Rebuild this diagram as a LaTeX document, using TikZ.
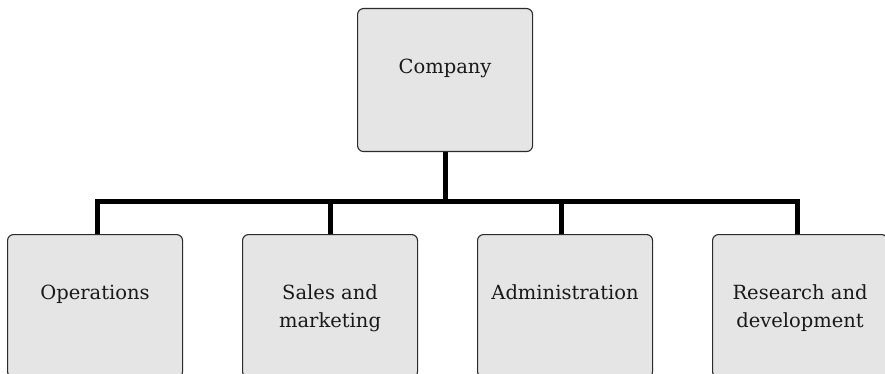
\documentclass[tikz,border=0pt]{standalone}
\usepackage{fontspec}
\setmainfont{DejaVu Serif}
\definecolor{boxgray}{HTML}{E5E5E5}
\definecolor{boxline}{HTML}{2B2B2B}
\begin{document}
\begin{tikzpicture}[x=1pt,y=-1pt,
  box/.style={draw=boxline, line width=1.1pt, fill=boxgray, rounded corners=6pt,
    minimum width=175pt, minimum height=143pt, inner sep=0pt, anchor=north west},
  lbl/.style={font=\fontsize{19.5}{28}\selectfont, align=center, inner sep=0pt,
    anchor=base, text=black!90},
  wire/.style={line width=5pt, line join=miter}]
\useasboundingbox (0,0) rectangle (885,374);
\node[box] (c) at (357,8) {};
\node[box] (o) at (7,234) {};
\node[box] (s) at (242,234) {};
\node[box] (a) at (477,234) {};
\node[box] (r) at (712,234) {};
\node[lbl] (tc) at ([yshift=-66pt]c.north) {Company};
\node[lbl] (to) at ([yshift=-65pt]o.north) {Operations};
\node[lbl] (ts) at ([yshift=-93pt]s.north) {Sales and\\marketing};
\node[lbl] (ta) at ([yshift=-65pt]a.north) {Administration};
\node[lbl] (tr) at ([yshift=-93pt]r.north) {Research and\\development};
\coordinate (bus) at (444.5,201);
\draw[wire] (c.south) -- (c.south |- bus);
\draw[wire] ([xshift=2.5pt]o.north) -- ([xshift=2.5pt]o.north |- bus)
  -- ([xshift=-2.5pt]r.north |- bus) -- ([xshift=-2.5pt]r.north);
\draw[wire] (s.north) -- (s.north |- bus);
\draw[wire] ([xshift=-3.5pt]a.north) -- ([xshift=-3.5pt]a.north |- bus);
\end{tikzpicture}
\end{document}
